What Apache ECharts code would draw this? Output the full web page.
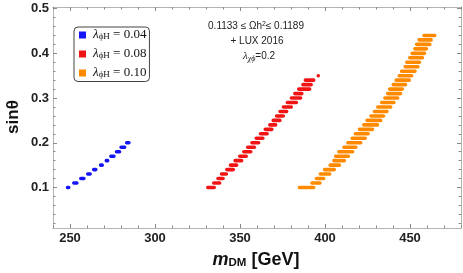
<!DOCTYPE html>
<html><head><meta charset="utf-8">
<script src="https://cdn.jsdelivr.net/npm/echarts@6/dist/echarts.min.js"></script>
<style>html,body{margin:0;padding:0;background:#fff}#c{width:463px;height:273px}</style>
</head><body><div id="c"></div>
<script>
// ---- data (row y value, x start, x end of each drawn dash) ----
const blueY      = [0.10,0.11,0.12,0.13,0.14,0.15,0.16,0.17,0.18,0.19,0.20];
const blueXStart = [247.5,251.2,255.3,259.4,262.9,267.0,270.3,273.0,276.3,279.0,282.3];
const blueXEnd   = [250.3,255.1,259.2,262.9,266.2,270.0,273.2,276.9,280.2,283.2,285.7];

const redY      = [0.10,0.11,0.12,0.13,0.14,0.15,0.16,0.17,0.18,0.19,0.20,0.21,0.22,0.23,0.24,0.25,0.26,0.27,0.28,0.29,0.30,0.31,0.32,0.33,0.34,0.35];
const redXStart = [330.0,333.5,336.0,338.1,341.2,343.4,346.1,348.8,351.2,353.5,356.0,358.5,361.0,363.8,366.5,368.5,370.5,372.5,374.5,376.8,379.2,381.2,383.5,386.0,387.4,395.0];
const redXEnd   = [335.9,339.1,341.1,343.0,347.1,349.0,352.0,354.7,357.4,359.5,362.0,364.5,367.0,369.8,372.0,374.5,376.5,378.5,381.2,384.2,386.7,387.4,392.0,392.9,394.4,396.8];

const orangeY      = [0.10,0.11,0.12,0.13,0.14,0.15,0.16,0.17,0.18,0.19,0.20,0.21,0.22,0.23,0.24,0.25,0.26,0.27,0.28,0.29,0.30,0.31,0.32,0.33,0.34,0.35,0.36,0.37,0.38,0.39,0.40,0.41,0.42,0.43,0.44];
const orangeXStart = [383.9,391.3,393.9,396.2,398.7,402.0,404.2,405.2,407.1,410.1,412.4,414.9,416.8,419.2,421.8,423.7,426.0,428.0,430.0,432.3,434.2,435.8,437.0,439.1,440.8,442.6,444.0,446.1,447.1,448.8,450.2,451.8,452.9,454.3,457.2];
const orangeXEnd   = [394.4,398.1,400.3,403.8,406.5,409.5,412.4,414.8,417.3,419.2,422.1,424.7,426.4,429.0,431.9,433.8,435.5,437.5,439.7,441.6,443.8,445.5,446.5,448.4,450.6,452.0,454.0,455.7,456.6,458.4,459.6,460.7,462.7,463.5,465.6];

const seriesNames  = ['λϕH = 0.04','λϕH = 0.08','λϕH = 0.10'];
const legendValues = ['0.04','0.08','0.10'];

const xMajorTicks = [250,300,350,400,450];
const xMinorTicks = [240,260,270,280,290,310,320,330,340,360,370,380,390,410,420,430,440,460,470,480];
const yMajorTicks = [0.1,0.2,0.3,0.4,0.5];
const yMinorTicks = [0.02,0.04,0.06,0.08,0.12,0.14,0.16,0.18,0.22,0.24,0.26,0.28,0.32,0.34,0.36,0.38,0.42,0.44,0.46,0.48];

const X_MIN = 240, X_MAX = 480, Y_MIN = 0.0094, Y_MAX = 0.5036;

function rows(ys, xs, xe){ return ys.map((y,i)=>[xs[i], xe[i], y]); }

const colors = ['#1414f5','#f01414','#ff8a00'];
function renderRow(params, api){
  const p1 = api.coord([api.value(0), api.value(2)]);
  const p2 = api.coord([api.value(1), api.value(2)]);
  const h = 3.6;
  const w = Math.max(p2[0]-p1[0], h);
  return {type:'rect', shape:{x:p1[0], y:p1[1]-h/2, width:w, height:h, r:h/2},
          style:{fill: api.visual('color')}};
}

const frameColor = '#b4b4b4';
const tickColor = '#8a8a8a';
function xAx(pos, values, len, labels, line){
  return {type:'value', position:pos, min:X_MIN, max:X_MAX, splitLine:{show:false},
    axisLine:{show:line, onZero:false, lineStyle:{color:frameColor, width:1}},
    axisTick:{show:true, inside:true, length:len, customValues:values, lineStyle:{color:tickColor}},
    axisLabel:{show:labels, customValues:values, margin:4, color:'#222', fontFamily:'Liberation Sans', fontWeight:'bold', fontSize:13}};
}
function yAx(pos, values, len, labels, line){
  return {type:'value', position:pos, min:Y_MIN, max:Y_MAX, splitLine:{show:false},
    axisLine:{show:line, onZero:false, lineStyle:{color:frameColor, width:1}},
    axisTick:{show:true, inside:true, length:len, customValues:values, lineStyle:{color:tickColor}},
    axisLabel:{show:labels, customValues:values, margin:4, color:'#222', fontFamily:'Liberation Sans', fontWeight:'bold', fontSize:13,
      formatter:(v)=>v.toFixed(1)}};
}

const chart = echarts.init(document.getElementById('c'), null, {renderer:'canvas'});
chart.setOption({
  animation:false,
  backgroundColor:'#fff',
  grid:{left:53, right:2, top:7, bottom:45},
  xAxis:[
    xAx('bottom', xMajorTicks, 4, true, true),
    xAx('bottom', xMinorTicks, 2.5, false, false),
    xAx('top', xMajorTicks, 4, false, true),
    xAx('top', xMinorTicks, 2.5, false, false)
  ],
  yAxis:[
    yAx('left', yMajorTicks, 4, true, true),
    yAx('left', yMinorTicks, 2.5, false, false),
    yAx('right', yMajorTicks, 4, false, true),
    yAx('right', yMinorTicks, 2.5, false, false)
  ],
  legend:{
    orient:'vertical', left:74, top:27, data:seriesNames,
    icon:'rect', itemWidth:7, itemHeight:7, itemGap:5.5,
    padding:[1,3,2,5], borderColor:'#444', borderWidth:1, borderRadius:4,
    selectedMode:false,
    formatter:(name)=>{ const v = legendValues[seriesNames.indexOf(name)]; return '{l|λ}{s|ϕH}{t| = '+v+'}'; },
    textStyle:{padding:[0,0,0,2], fontFamily:'Liberation Serif', fontSize:13, color:'#111',
      rich:{
        l:{fontFamily:'Liberation Serif', fontStyle:'italic', fontSize:13, color:'#111', lineHeight:12},
        s:{fontFamily:'Liberation Serif', fontSize:9, color:'#111', verticalAlign:'bottom', lineHeight:12, padding:[4,0,0,0]},
        t:{fontFamily:'Liberation Serif', fontSize:13, color:'#111', lineHeight:12}
      }}
  },
  series:[
    {name:seriesNames[0], type:'custom', renderItem:renderRow, itemStyle:{color:colors[0]}, encode:{x:[0,1], y:2}, data:rows(blueY, blueXStart, blueXEnd)},
    {name:seriesNames[1], type:'custom', renderItem:renderRow, itemStyle:{color:colors[1]}, encode:{x:[0,1], y:2}, data:rows(redY, redXStart, redXEnd)},
    {name:seriesNames[2], type:'custom', renderItem:renderRow, itemStyle:{color:colors[2]}, encode:{x:[0,1], y:2}, data:rows(orangeY, orangeXStart, orangeXEnd)}
  ],
  graphic:[
    {type:'text', x:256, y:26, style:{text:'0.1133 ≤ Ωh{p|2}≤ 0.1189', textAlign:'center', textVerticalAlign:'middle',
      font:'10px "Liberation Sans"', fill:'#222', rich:{p:{fontSize:7, fontFamily:'Liberation Sans', fill:'#222', verticalAlign:'top', padding:[0,0,4,0]}}}},
    {type:'text', x:257, y:41, style:{text:'+ LUX 2016', textAlign:'center', textVerticalAlign:'middle', font:'10px "Liberation Sans"', fill:'#222'}},
    {type:'text', x:259, y:56, style:{text:'{i|λ}{b|χϕ}=0.2', textAlign:'center', textVerticalAlign:'middle', font:'10px "Liberation Sans"', fill:'#222',
      rich:{i:{fontFamily:'Liberation Serif', fontStyle:'italic', fontSize:11, fill:'#222'},
            b:{fontFamily:'Liberation Serif', fontStyle:'italic', fontSize:8, fill:'#222', padding:[5,0,0,0]}}}},
    {type:'text', x:13, y:117, rotation:Math.PI/2, style:{text:'sinθ', textAlign:'center', textVerticalAlign:'middle',
      font:'bold 17px "Liberation Sans"', fill:'#111'}},
    {type:'text', x:256, y:260, style:{text:'{m|m}{d|DM}{g| [GeV]}', textAlign:'center', textVerticalAlign:'middle',
      rich:{m:{fontFamily:'Liberation Sans', fontWeight:'bold', fontStyle:'italic', fontSize:18, fill:'#111'},
            d:{fontFamily:'Liberation Sans', fontWeight:'bold', fontSize:11.5, fill:'#111', padding:[6,0,0,0]},
            g:{fontFamily:'Liberation Sans', fontWeight:'bold', fontSize:18, fill:'#111'}}}}
  ]
});
</script></body></html>
